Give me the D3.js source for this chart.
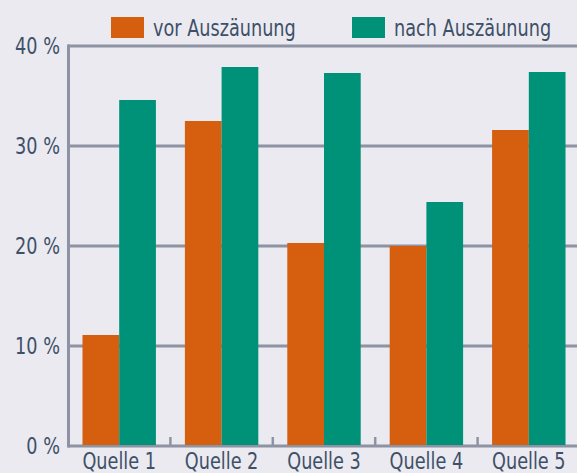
<!DOCTYPE html>
<html>
<head>
<meta charset="utf-8">
<script src="https://cdn.jsdelivr.net/npm/d3@7"></script>
<style>
  body { margin: 0; background: #ebeaf0; }
  svg text { font-family: "DejaVu Sans Condensed", "DejaVu Sans", sans-serif; fill: #3e5068; }
</style>
</head>
<body>
<script>
'use strict';

const categories = ['Quelle 1', 'Quelle 2', 'Quelle 3', 'Quelle 4', 'Quelle 5'];
const seriesNames = ['vor Auszäunung', 'nach Auszäunung'];
const vorValues = [11.1, 32.5, 20.3, 20.0, 31.6];
const nachValues = [34.6, 37.9, 37.3, 24.4, 37.4];
const yTicks = [0, 10, 20, 30, 40];
const colors = ['#d55e0f', '#009179'];

const width = 577, height = 473;
const margin = { left: 68, right: 0, top: 46, bottom: 27 };
const squeeze = 0.855; // narrow the font a bit, the original uses a condensed face

const svg = d3.select('body')
  .append('svg')
  .attr('width', width)
  .attr('height', height);

const y = d3.scaleLinear()
  .domain([0, 40])
  .range([height - margin.bottom, margin.top]);

const x0 = d3.scaleBand()
  .domain(categories)
  .range([margin.left, margin.left + 102.4 * categories.length])
  .paddingInner(0.283)
  .paddingOuter(0.1415);

const x1 = d3.scaleBand()
  .domain(seriesNames)
  .range([0, x0.bandwidth()]);

const gridColor = '#8e93a4';

// gridlines
svg.append('g')
  .selectAll('line')
  .data(yTicks)
  .enter()
  .append('line')
  .attr('x1', margin.left)
  .attr('x2', width)
  .attr('y1', d => y(d))
  .attr('y2', d => y(d))
  .style('stroke', gridColor)
  .style('stroke-width', 3);

// left axis line
svg.append('line')
  .attr('x1', margin.left + 0.5)
  .attr('x2', margin.left + 0.5)
  .attr('y1', y(40) - 1.5)
  .attr('y2', y(0) + 1.5)
  .style('stroke', gridColor)
  .style('stroke-width', 3);

// small ticks between groups
const step = x0.step();
svg.append('g')
  .selectAll('line')
  .data(categories.slice(1))
  .enter()
  .append('line')
  .attr('x1', d => x0(d) - step * x0.paddingInner() / 2)
  .attr('x2', d => x0(d) - step * x0.paddingInner() / 2)
  .attr('y1', y(0))
  .attr('y2', y(0) - 9)
  .style('stroke', gridColor)
  .style('stroke-width', 2.5);

// bars
const rows = categories.map((c, i) => ({ cat: c, values: [vorValues[i], nachValues[i]] }));

svg.append('g')
  .selectAll('g')
  .data(rows)
  .enter()
  .append('g')
  .attr('transform', d => `translate(${x0(d.cat)},0)`)
  .selectAll('rect')
  .data(d => d.values.map((v, j) => ({ key: seriesNames[j], v, j })))
  .enter()
  .append('rect')
  .attr('x', d => x1(d.key))
  .attr('width', x1.bandwidth())
  .attr('y', d => y(d.v))
  .attr('height', d => y(0) - y(d.v) - 1)
  .style('fill', d => colors[d.j]);

// y labels
svg.append('g')
  .selectAll('text')
  .data(yTicks)
  .enter()
  .append('text')
  .attr('transform', d => `translate(60,${y(d) + 8}) scale(${squeeze},1)`)
  .attr('text-anchor', 'end')
  .style('font-size', '23px')
  .text(d => d + ' %');

// x labels
svg.append('g')
  .selectAll('text')
  .data(categories)
  .enter()
  .append('text')
  .attr('transform', d => `translate(${x0(d) + x0.bandwidth() / 2},469) scale(${squeeze},1)`)
  .attr('text-anchor', 'middle')
  .style('font-size', '23px')
  .text(d => d);

// legend
const legendX = [111, 352];
const legend = svg.append('g')
  .selectAll('g')
  .data(seriesNames)
  .enter()
  .append('g')
  .attr('transform', (d, i) => `translate(${legendX[i]},17)`);

legend.append('rect')
  .attr('width', 33)
  .attr('height', 21)
  .style('fill', (d, i) => colors[i]);

legend.append('text')
  .attr('transform', `translate(42,19) scale(${squeeze},1)`)
  .style('font-size', '23px')
  .text(d => d);
</script>
</body>
</html>
